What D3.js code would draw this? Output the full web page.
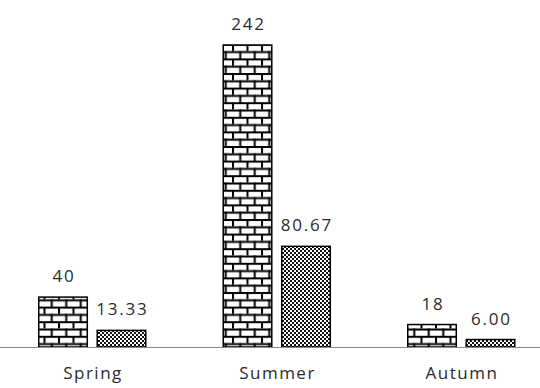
<!DOCTYPE html>
<html>
<head>
<meta charset="utf-8">
<script src="https://cdn.jsdelivr.net/npm/d3@7"></script>
<style>
  html, body { margin: 0; padding: 0; background: #fff; }
  svg { display: block; }
  text { font-family: "Open Sans", "Liberation Sans", sans-serif; fill: #2b2b2b; }
</style>
</head>
<body>
<svg id="chart" width="540" height="388"></svg>
<script>
// Seasonal totals and their per-month averages
const categories = ["Spring", "Summer", "Autumn"];
const totals = [40, 242, 18];
const averages = [13.33, 80.67, 6.00];
const totalLabels = ["40", "242", "18"];
const averageLabels = ["13.33", "80.67", "6.00"];

const W = 540, H = 388;
const baseY = 347;
const svg = d3.select("#chart");
const defs = svg.append("defs");

// Brick hatch
const brick = defs.append("pattern")
  .attr("id", "brick").attr("patternUnits", "userSpaceOnUse")
  .attr("width", 14.5).attr("height", 14.6);
brick.append("rect").attr("width", 14.5).attr("height", 14.6).attr("fill", "#fff");
brick.append("rect").attr("x", 0).attr("y", 0).attr("width", 14.5).attr("height", 2).attr("fill", "#000");
brick.append("rect").attr("x", 0).attr("y", 7.3).attr("width", 14.5).attr("height", 2).attr("fill", "#000");
brick.append("rect").attr("x", 0).attr("y", 0).attr("width", 2).attr("height", 7.3).attr("fill", "#000");
brick.append("rect").attr("x", 7.25).attr("y", 7.3).attr("width", 2).attr("height", 7.3).attr("fill", "#000");

// Checkerboard hatch
const checker = defs.append("pattern")
  .attr("id", "checker").attr("patternUnits", "userSpaceOnUse")
  .attr("width", 4).attr("height", 4);
checker.append("rect").attr("width", 4).attr("height", 4).attr("fill", "#111");
checker.append("rect").attr("x", 0).attr("y", 0).attr("width", 2).attr("height", 2).attr("fill", "#fff");
checker.append("rect").attr("x", 2).attr("y", 2).attr("width", 2).attr("height", 2).attr("fill", "#fff");

const x = d3.scaleBand().domain(categories).range([0, 553.5])
  .paddingInner(0.42).paddingOuter(0.21);
const sub = d3.scaleBand().domain(["total", "average"]).range([0, x.bandwidth()])
  .paddingInner(0.17);
const y = d3.scaleLinear().domain([0, 242]).range([baseY, 45]);

const series = [
  { key: "total", values: totals, labels: totalLabels, fill: "url(#brick)" },
  { key: "average", values: averages, labels: averageLabels, fill: "url(#checker)" }
];

series.forEach(s => {
  const g = svg.append("g");
  g.selectAll("rect").data(categories).join("rect")
    .attr("x", (c) => x(c) + sub(s.key))
    .attr("y", (c, i) => y(s.values[i]))
    .attr("width", sub.bandwidth())
    .attr("height", (c, i) => baseY - y(s.values[i]))
    .attr("fill", s.fill)
    .attr("stroke", "#000").attr("stroke-width", 1.5);
  g.selectAll("text").data(categories).join("text")
    .attr("x", (c) => x(c) + sub(s.key) + sub.bandwidth() / 2 + 0.9)
    .attr("y", (c, i) => y(s.values[i]) - 15)
    .attr("text-anchor", "middle")
    .attr("font-size", 17)
    .attr("letter-spacing", 1.8)
    .text((c, i) => s.labels[i]);
});

// Category axis
const axis = svg.append("g").attr("transform", `translate(0,${baseY})`)
  .call(d3.axisBottom(x).tickSize(0).tickPadding(20));
axis.select(".domain").attr("d", `M0,0.5H${W}`).attr("stroke", "#888").attr("stroke-width", 1);
axis.selectAll("text").attr("font-size", 17).attr("fill", "#2b2b2b")
  .attr("dx", 0.75)
  .attr("letter-spacing", 1.5)
  .style("font-family", '"Open Sans", "Liberation Sans", sans-serif');
</script>
</body>
</html>
